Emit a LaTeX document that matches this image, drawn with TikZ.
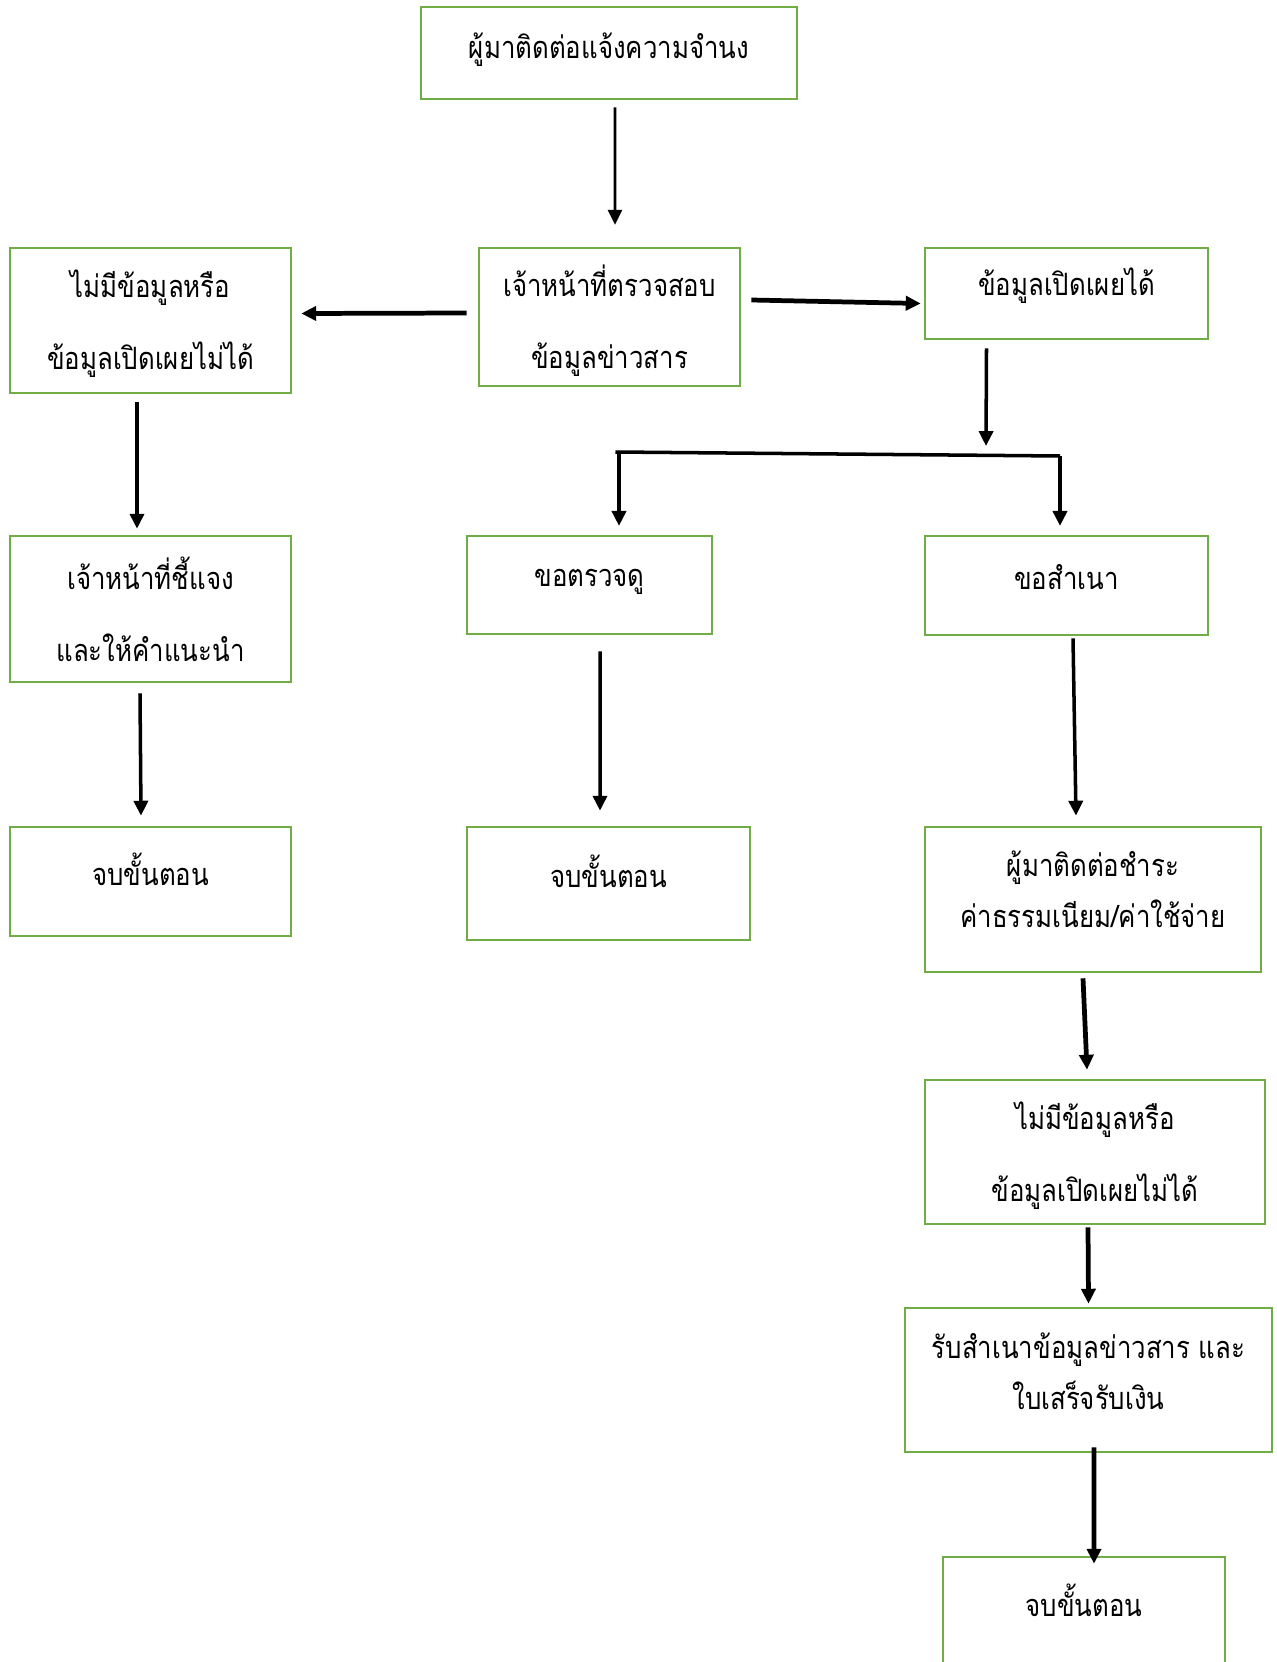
\documentclass[tikz,border=0pt]{standalone}
\usepackage{fontspec}
\newfontfamily\thaifont[Script=Thai, FakeStretch=0.84]{Loma}
\usetikzlibrary{arrows.meta}
\definecolor{boxgreen}{RGB}{112, 173, 71}
% raise a line of text without changing the box size
\newcommand{\lift}[2]{\raisebox{#1}[\height][\depth]{#2}}

\begin{document}
\begin{tikzpicture}[
    x=0.02cm, y=-0.02cm,
    % Define Styles for Consistency
    box/.style={
        rectangle, draw=boxgreen, line width=1.5pt,
        fill=white, align=center, inner sep=0pt,
        font=\thaifont\fontsize{17.5}{41}\selectfont
    },
    closelines/.style={
        font=\thaifont\fontsize{17.5}{29}\selectfont
    },
    arrow/.style={
        -{Triangle[length=8.5pt, width=8pt]}, line width=2pt, draw=black
    },
    heavyarrow/.style={
        arrow, line width=2.7pt
    }
]
    \useasboundingbox[fill=white] (0,0) rectangle (1276,1662);

    % --- 1. Request and Check (Top Row) ---

    \node[box, minimum width=7.52cm, minimum height=1.84cm] (request) at (609,53) {\lift{1.7pt}{ผู้มาติดต่อแจ้งความจำนง}};

    \node[box, minimum width=5.22cm, minimum height=2.76cm] (check) at (609.5,317) {
        \lift{-2.3pt}{เจ้าหน้าที่ตรวจสอบ}\\\lift{-2.3pt}{ข้อมูลข่าวสาร}
    };

    % Left: not disclosable
    \node[box, minimum width=5.62cm, minimum height=2.9cm] (nodata) at (150.5,320.5) {
        \lift{-1.7pt}{ไม่มีข้อมูลหรือ}\\\lift{-1.7pt}{ข้อมูลเปิดเผยไม่ได้}
    };

    % Right: disclosable
    \node[box, minimum width=5.66cm, minimum height=1.82cm] (disclose) at (1066.5,293.5) {\lift{4.5pt}{ข้อมูลเปิดเผยได้}};

    % --- 2. Second Row ---

    \node[box, minimum width=5.62cm, minimum height=2.92cm] (explain) at (150.5,609) {
        เจ้าหน้าที่ชี้แจง\\และให้คำแนะนำ
    };
    \node[box, minimum width=4.9cm, minimum height=1.96cm] (view) at (589.5,585) {\lift{1.7pt}{ขอตรวจดู}};
    \node[box, minimum width=5.66cm, minimum height=1.98cm] (copy) at (1066.5,585.5) {\lift{5pt}{ขอสำเนา}};

    % --- 3. Third Row ---

    \node[box, minimum width=5.62cm, minimum height=2.18cm] (endleft) at (150.5,881.5) {\lift{7pt}{จบขั้นตอน}};
    \node[box, minimum width=5.66cm, minimum height=2.26cm] (endmid) at (608.5,883.5) {\lift{7pt}{จบขั้นตอน}};
    \node[box, closelines, minimum width=6.72cm, minimum height=2.9cm] (pay) at (1093,899.5) {
        \lift{5.7pt}{ผู้มาติดต่อชำระ}\\\lift{5.7pt}{ค่าธรรมเนียม/ค่าใช้จ่าย}
    };

    % --- 4. Copy Branch (Right Column) ---

    \node[box, minimum width=6.8cm, minimum height=2.88cm] (nodatab) at (1095,1152) {
        \lift{-2.3pt}{ไม่มีข้อมูลหรือ}\\\lift{-2.3pt}{ข้อมูลเปิดเผยไม่ได้}
    };
    \node[box, closelines, minimum width=7.34cm, minimum height=2.88cm] (receive) at (1088.5,1380) {
        \lift{5pt}{รับสำเนาข้อมูลข่าวสาร และ}\\\lift{5pt}{ใบเสร็จรับเงิน}
    };
    \node[box, minimum width=5.64cm, minimum height=2.86cm] (endright) at (1084,1628.5) {\lift{16pt}{จบขั้นตอน}};

    % --- 5. Connecting Arrows ---

    \draw[arrow, line width=1.5pt] ([shift={(6,7)}]request.south) -- ([shift={(5.5,-22)}]check.north);
    \draw[heavyarrow] ([shift={(-11,-4)}]check.west) -- ([shift={(9,-7)}]nodata.east);
    \draw[heavyarrow] ([shift={(10,-17)}]check.east) -- ([shift={(-3,10)}]disclose.west);

    % Split into view / copy
    \coordinate (split) at (986,446);
    \coordinate (forkL) at (619,452);
    \coordinate (forkR) at (1060,456);
    \draw[arrow] ([shift={(-80,8)}]disclose.south) -- (split);
    \draw[arrow, shorten >=5pt] (forkL) -- (forkL |- view.north);
    \draw[arrow, -] ([xshift=-2pt]forkL) -- (forkR);
    \draw[arrow, shorten >=5pt] (forkR) -- (forkR |- copy.north);

    \draw[arrow] ([shift={(-13.5,8)}]nodata.south) -- ([shift={(-13.5,-6)}]explain.north);
    \draw[arrow] ([shift={(-10.5,10)}]explain.south) -- ([shift={(-9.5,-10)}]endleft.north);
    \draw[arrow] ([shift={(10.5,16)}]view.south) -- ([shift={(-8.5,-15)}]endmid.north);
    \draw[arrow] ([shift={(6.5,2)}]copy.south) -- ([shift={(-17,-10)}]pay.north);
    \draw[heavyarrow] ([shift={(-10,5)}]pay.south) -- ([shift={(-8,-9)}]nodatab.north);
    \draw[heavyarrow] ([shift={(-7,2)}]nodatab.south) -- ([shift={(0,-3)}]receive.north);
    \draw[heavyarrow] ([shift={(5.5,-6)}]receive.south) -- ([shift={(10,8)}]endright.north);

\end{tikzpicture}
\end{document}
